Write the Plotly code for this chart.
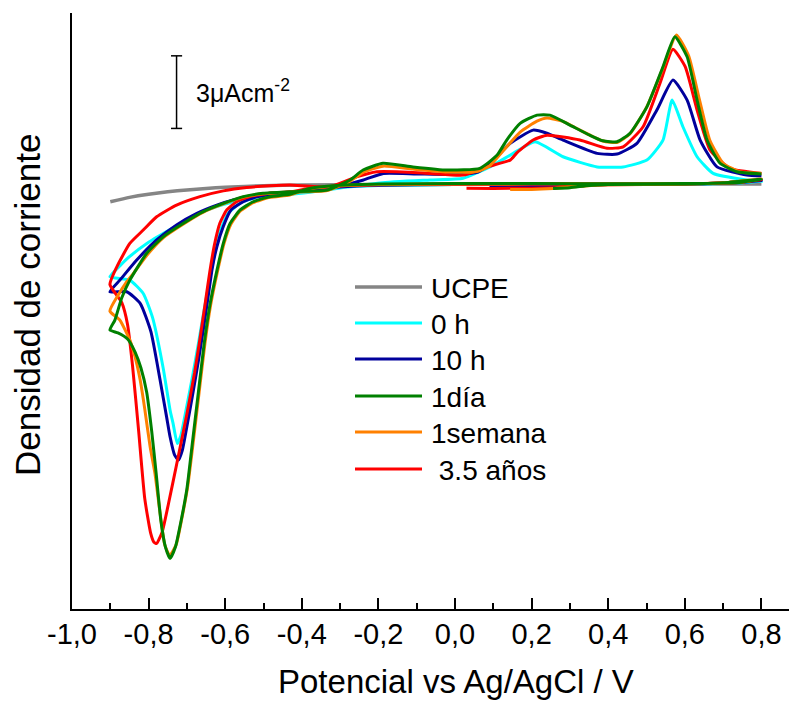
import plotly.graph_objects as go

# Cyclic voltammograms: potential (V vs Ag/AgCl) and current density (µA cm^-2)
ucpe_x = [-0.90, -0.85, -0.80, -0.75, -0.70, -0.65, -0.60, -0.50, -0.40, -0.20, 0.00, 0.20, 0.40, 0.60, 0.80]
ucpe_y = [-0.73, -0.55, -0.42, -0.32, -0.24, -0.18, -0.13, -0.07, -0.04, -0.02, -0.01, 0.00, 0.00, 0.00, 0.00]

h0_x = [0.20, 0.30, 0.40, 0.60, 0.70, 0.80,
        0.75, 0.70, 0.60, 0.40, 0.20, 0.00, -0.20, -0.30, -0.38,
        -0.431, -0.47, -0.52, -0.56, -0.592, -0.612, -0.628, -0.640, -0.655, -0.670, -0.686, -0.703, -0.716, -0.725,
        -0.736, -0.744, -0.762, -0.790, -0.814, -0.849, -0.901,
        -0.875, -0.850, -0.800, -0.727, -0.674, -0.622, -0.579, -0.535, -0.483, -0.431, -0.379, -0.326,
        -0.196, -0.065, 0.021, 0.091, 0.152, 0.209, 0.282, 0.371, 0.439, 0.501, 0.543, 0.567, 0.595,
        0.632, 0.674, 0.762, 0.80]
h0_y = [-0.08, -0.04, -0.02, 0.00, 0.03, 0.12,
        0.06, 0.02, 0.00, 0.00, -0.01, -0.02, -0.06, -0.14, -0.28,
        -0.42, -0.45, -0.55, -0.78, -1.20, -1.90, -2.90, -3.90, -5.20, -6.60, -8.00, -9.40, -10.40, -10.72,
        -9.90, -9.34, -7.60, -5.50, -4.52, -3.97, -3.83,
        -3.38, -3.00, -2.40, -1.72, -1.25, -0.93, -0.73, -0.58, -0.47, -0.43, -0.34, -0.22,
        0.05, 0.17, 0.24, 0.71, 1.27, 1.75, 1.13, 0.71, 0.71, 0.99, 1.82, 3.47, 2.37,
        1.13, 0.44, 0.17, 0.12]

h10_x = [0.09, 0.20, 0.30, 0.40, 0.60, 0.70, 0.80,
         0.75, 0.70, 0.60, 0.40, 0.20, 0.00, -0.20, -0.30, -0.38,
         -0.431, -0.47, -0.514, -0.553, -0.585, -0.605, -0.622, -0.634, -0.645, -0.657, -0.670, -0.685, -0.701, -0.712, -0.722,
         -0.732, -0.744, -0.753, -0.770, -0.794, -0.822, -0.857, -0.901,
         -0.875, -0.831, -0.779, -0.727, -0.674, -0.622, -0.579, -0.535, -0.483, -0.431, -0.379, -0.326,
         -0.239, -0.187, -0.100, 0.000, 0.060, 0.095, 0.144, 0.204, 0.240, 0.282, 0.371, 0.423, 0.475,
         0.527, 0.569, 0.606, 0.640, 0.684, 0.762, 0.80]
h10_y = [-0.10, -0.10, -0.05, -0.02, 0.00, 0.04, 0.15,
         0.07, 0.03, 0.01, 0.00, 0.00, -0.02, -0.05, -0.12, -0.25,
         -0.37, -0.41, -0.52, -0.73, -1.07, -1.75, -2.60, -3.50, -4.70, -6.00, -7.30, -8.70, -10.10, -11.00, -11.40,
         -11.20, -10.44, -9.62, -8.10, -6.10, -4.93, -4.45, -4.45,
         -3.97, -3.14, -2.31, -1.69, -1.21, -0.87, -0.66, -0.50, -0.38, -0.34, -0.29, -0.18,
         0.17, 0.44, 0.42, 0.40, 0.50, 0.90, 1.68, 2.23, 2.10, 1.82, 1.27, 1.24, 1.68,
         3.06, 4.30, 3.47, 1.82, 0.71, 0.37, 0.33]

d1_x = [0.256, 0.30, 0.35, 0.40, 0.60, 0.70, 0.80,
        0.75, 0.70, 0.60, 0.40, 0.20, 0.00, -0.20, -0.30, -0.38,
        -0.431, -0.483, -0.527, -0.561, -0.587, -0.605, -0.622, -0.640, -0.655, -0.670, -0.685, -0.700, -0.715, -0.730, -0.744,
        -0.756, -0.768, -0.780, -0.792, -0.805, -0.820, -0.835, -0.855, -0.880, -0.901,
        -0.888, -0.870, -0.849, -0.805, -0.762, -0.709, -0.657, -0.605, -0.553, -0.501, -0.431, -0.334,
        -0.274, -0.240, -0.188, -0.110, -0.021, 0.065, 0.110, 0.135, 0.170, 0.214, 0.248, 0.300, 0.352,
        0.386, 0.423, 0.457, 0.501, 0.543, 0.574, 0.606, 0.632, 0.658, 0.692, 0.736, 0.80]
d1_y = [-0.18, -0.15, -0.06, -0.02, 0.00, 0.05, 0.20,
        0.08, 0.04, 0.02, 0.01, 0.02, 0.02, 0.00, -0.05, -0.18,
        -0.42, -0.52, -0.73, -1.07, -1.62, -2.45, -3.60, -5.00, -6.60, -8.60, -10.60, -12.60, -13.90, -15.00, -15.47,
        -15.00, -13.90, -12.00, -10.20, -8.60, -7.60, -6.95, -6.40, -6.15, -6.03,
        -5.62, -4.70, -3.97, -2.86, -2.18, -1.62, -1.14, -0.80, -0.52, -0.38, -0.32, -0.25,
        0.17, 0.58, 0.86, 0.71, 0.58, 0.65, 1.20, 1.82, 2.51, 2.85, 2.85, 2.44, 2.02,
        1.79, 1.75, 2.10, 3.19, 4.85, 6.09, 5.26, 3.47, 1.82, 0.86, 0.51, 0.42]

w1_x = [0.144, 0.20, 0.256, 0.30, 0.40, 0.60, 0.70, 0.80,
        0.75, 0.70, 0.60, 0.40, 0.20, 0.00, -0.20, -0.30, -0.38,
        -0.431, -0.483, -0.527, -0.561, -0.585, -0.603, -0.620, -0.638, -0.653, -0.668, -0.683, -0.698, -0.713, -0.728, -0.745,
        -0.758, -0.770, -0.783, -0.796, -0.810, -0.822, -0.836, -0.849, -0.875, -0.901,
        -0.880, -0.860, -0.840, -0.805, -0.762, -0.709, -0.657, -0.605, -0.553, -0.501, -0.431, -0.334,
        -0.274, -0.240, -0.188, -0.110, -0.021, 0.057, 0.090, 0.130, 0.170, 0.214, 0.240, 0.280, 0.330,
        0.386, 0.423, 0.457, 0.501, 0.543, 0.578, 0.610, 0.638, 0.665, 0.700, 0.745, 0.80]
w1_y = [-0.22, -0.22, -0.18, -0.12, -0.03, 0.00, 0.05, 0.22,
        0.08, 0.04, 0.02, 0.01, 0.01, 0.00, -0.02, -0.07, -0.20,
        -0.45, -0.55, -0.77, -1.12, -1.65, -2.45, -3.60, -5.00, -6.60, -8.60, -10.60, -12.50, -13.80, -14.90, -15.35,
        -14.90, -13.60, -12.00, -10.86, -9.30, -8.10, -7.10, -6.45, -5.62, -5.25,
        -4.60, -4.10, -3.70, -2.95, -2.22, -1.65, -1.16, -0.82, -0.54, -0.40, -0.34, -0.27,
        0.12, 0.48, 0.74, 0.62, 0.50, 0.52, 0.75, 1.45, 2.15, 2.60, 2.73, 2.60, 2.20,
        1.78, 1.72, 2.08, 3.20, 4.80, 6.16, 5.30, 3.50, 1.82, 0.86, 0.50, 0.45]

y35_x = [0.03, 0.10, 0.20, 0.26, 0.30, 0.40, 0.60, 0.70, 0.80,
         0.75, 0.70, 0.60, 0.40, 0.20, 0.00, -0.20, -0.30, -0.38,
         -0.431, -0.483, -0.535, -0.570, -0.596, -0.614, -0.628, -0.640, -0.652, -0.665, -0.680, -0.700, -0.727, -0.748, -0.765, -0.779,
         -0.786, -0.795, -0.810, -0.826, -0.842, -0.855, -0.870, -0.901,
         -0.883, -0.849, -0.814, -0.779, -0.727, -0.666, -0.605, -0.544, -0.483, -0.431, -0.326,
         -0.257, -0.204, -0.152, -0.065, 0.021, 0.084, 0.144, 0.162, 0.204, 0.240, 0.326, 0.397, 0.439,
         0.491, 0.535, 0.569, 0.601, 0.632, 0.666, 0.718, 0.80]
y35_y = [-0.17, -0.18, -0.17, -0.15, -0.09, -0.03, 0.00, 0.05, 0.18,
         0.08, 0.04, 0.02, 0.00, 0.00, -0.01, -0.03, -0.08, -0.18,
         -0.32, -0.38, -0.52, -0.73, -1.07, -1.62, -2.50, -3.60, -4.90, -6.30, -7.80, -9.50, -11.60, -13.20, -14.40, -14.85,
         -14.80, -14.40, -13.00, -10.20, -7.50, -5.80, -4.90, -4.15,
         -3.42, -2.45, -1.90, -1.35, -0.87, -0.52, -0.28, -0.14, -0.07, -0.04, -0.11,
         0.30, 0.51, 0.51, 0.44, 0.37, 0.71, 0.99, 1.30, 1.82, 2.02, 1.82, 1.48, 1.54,
         2.37, 4.16, 5.57, 4.85, 3.06, 1.40, 0.65, 0.44]

# name, x, y, colour, width  (drawing order)
series = [
    ("UCPE", ucpe_x, ucpe_y, "#858585", 3.5),
    ("0 h", h0_x, h0_y, "#00FFFF", 3),
    ("10 h", h10_x, h10_y, "#00009C", 3),
    ("\u00a03.5 años", y35_x, y35_y, "#FF0000", 3),
    ("1semana", w1_x, w1_y, "#FF8000", 3),
    ("1día", d1_x, d1_y, "#008000", 3),
]
legend_order = ["UCPE", "0 h", "10 h", "1día", "1semana", "\u00a03.5 años"]

tick_vals = [-1.0, -0.8, -0.6, -0.4, -0.2, 0.0, 0.2, 0.4, 0.6, 0.8]
tick_text = ["-1,0", "-0,8", "-0,6", "-0,4", "-0,2", "0,0", "0,2", "0,4", "0,6", "0,8"]
minor_vals = [-0.9, -0.7, -0.5, -0.3, -0.1, 0.1, 0.3, 0.5, 0.7]

scale_value = 3.0      # µA cm^-2 represented by the scale bar
scale_x = -0.727
scale_y0 = 2.30

FONT = "Arial, 'Liberation Sans', sans-serif"
W, H = 789, 702
ML, MR, MT, MB = 72, 0, 13, 93
PW, PH = W - ML - MR, H - MT - MB


def px(xpix):
    return (xpix - ML) / PW


def py(ypix):
    return (H - MB - ypix) / PH


fig = go.Figure()
for name, xs, ys, col, lw in series:
    fig.add_trace(go.Scatter(x=xs, y=ys, mode="lines", name=name,
                             line=dict(color=col, width=lw, shape="spline", smoothing=0.5),
                             showlegend=False, hoverinfo="skip"))

shapes = []
annotations = []

# scale bar
cap = 0.0145
shapes.append(dict(type="line", xref="x", yref="y", x0=scale_x, x1=scale_x,
                   y0=scale_y0, y1=scale_y0 + scale_value, line=dict(color="black", width=1.5)))
for yy in (scale_y0, scale_y0 + scale_value):
    shapes.append(dict(type="line", xref="x", yref="y", x0=scale_x - cap, x1=scale_x + cap,
                       y0=yy, y1=yy, line=dict(color="black", width=1.5)))
annotations.append(dict(xref="x", yref="y", x=scale_x + 0.046, y=scale_y0 + scale_value / 2 + 0.05,
                        text="%dμAcm<sup>-2</sup>" % scale_value, showarrow=False,
                        xanchor="left", yanchor="middle", font=dict(family=FONT, size=25, color="black")))

# legend
colours = {s[0]: (s[3], s[4]) for s in series}
row_y = [287, 323, 359, 396, 432, 469]
for name, ry in zip(legend_order, row_y):
    col, lw = colours[name]
    shapes.append(dict(type="line", xref="paper", yref="paper", x0=px(355), x1=px(422),
                       y0=py(ry), y1=py(ry), line=dict(color=col, width=lw)))
    annotations.append(dict(xref="paper", yref="paper", x=px(429), y=py(ry + 1), text=name,
                            showarrow=False, xanchor="left", yanchor="middle",
                            font=dict(family=FONT, size=28, color="black")))

# axis titles
annotations.append(dict(xref="paper", yref="paper", x=px(456), y=py(681),
                        text="Potencial vs Ag/AgCl / V", showarrow=False,
                        xanchor="center", yanchor="middle",
                        font=dict(family=FONT, size=33, color="black")))
annotations.append(dict(xref="paper", yref="paper", x=px(27), y=py(305),
                        text="Densidad de corriente", showarrow=False, textangle=-90,
                        xanchor="center", yanchor="middle",
                        font=dict(family=FONT, size=35, color="black")))

fig.update_layout(
    width=W, height=H,
    margin=dict(l=ML, r=MR, t=MT, b=MB),
    paper_bgcolor="white", plot_bgcolor="white",
    showlegend=False,
    shapes=shapes, annotations=annotations,
    xaxis=dict(range=[-1.0, 0.872], showgrid=False, zeroline=False,
               showline=True, linecolor="black", linewidth=2,
               tickmode="array", tickvals=tick_vals, ticktext=tick_text,
               ticks="inside", ticklen=11, tickwidth=2, tickcolor="black",
               ticklabelstandoff=-2,
               tickfont=dict(family=FONT, size=29, color="black")),
    yaxis=dict(range=[-17.56, 7.07], showgrid=False, zeroline=False,
               showline=True, linecolor="black", linewidth=2,
               ticks="", showticklabels=False),
)
fig.update_xaxes(minor=dict(tickmode="array", tickvals=minor_vals, ticks="inside",
                            ticklen=6, tickwidth=2, tickcolor="black"))

fig.write_html("out.html")
